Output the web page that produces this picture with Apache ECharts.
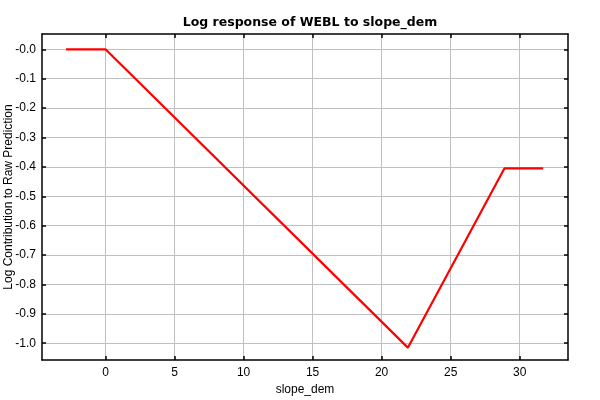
<!DOCTYPE html>
<html><head><meta charset="utf-8">
<script src="https://cdn.jsdelivr.net/npm/echarts@6/dist/echarts.min.js"></script>
<style>html,body{margin:0;padding:0;background:#fff}#c{width:600px;height:400px}</style>
</head><body><div id="c"></div>
<script>
var xValues = [-2.86, 0.0, 21.9, 28.9, 31.7];
var yValues = [0.0, 0.0, -1.015, -0.405, -0.405];
var xTicks = [0, 5, 10, 15, 20, 25, 30];
var yTicks = [-1.0, -0.9, -0.8, -0.7, -0.6, -0.5, -0.4, -0.3, -0.2, -0.1, 0.0];
var titleText = 'Log response of WEBL to slope_dem';
var xName = 'slope_dem';
var yName = 'Log Contribution to Raw Prediction';

var data = xValues.map(function(x, i){ return [x, yValues[i]]; });
var chart = echarts.init(document.getElementById('c'), null, {renderer:'canvas'});
var font = '"Liberation Sans", Arial, sans-serif';
var tfont = '"DejaVu Sans", Verdana, sans-serif';
function axisLine(){ return {show:true, onZero:false, lineStyle:{color:'#000', width:1.5}}; }
function axisTick(vals){ return {show:true, inside:true, length:4, customValues:vals, lineStyle:{color:'#000', width:1.5}}; }
chart.setOption({
  animation:false,
  backgroundColor:'#fff',
  title:{text:titleText, left:305, top:11, textAlign:'center',
    textStyle:{fontFamily:tfont, fontSize:12.5, fontWeight:'bold', color:'#000'}},
  grid:{left:42, right:32, top:34, bottom:40, containLabel:false, outerBoundsMode:'none'},
  xAxis:[
    {type:'value', min:-4.6, max:33.5, position:'bottom',
      axisLine:axisLine(), axisTick:axisTick(xTicks),
      name:xName, nameLocation:'middle', nameGap:24, nameMoveOverlap:false,
      nameTextStyle:{fontFamily:font, fontSize:12, color:'#000'},
      axisLabel:{fontFamily:font, fontSize:12, color:'#000', margin:7, customValues:xTicks},
      splitLine:{show:true, lineStyle:{color:'#c0c0c0', width:1}}},
    {type:'value', min:-4.6, max:33.5, position:'top',
      axisLine:axisLine(), axisTick:axisTick(xTicks), axisLabel:{show:false}, splitLine:{show:false}}
  ],
  yAxis:[
    {type:'value', min:-1.057, max:0.052, position:'left',
      axisLine:axisLine(), axisTick:axisTick(yTicks),
      name:yName, nameLocation:'middle', nameGap:27, nameMoveOverlap:false,
      nameTextStyle:{fontFamily:font, fontSize:12, color:'#000'},
      axisLabel:{fontFamily:font, fontSize:12, color:'#000', margin:6, customValues:yTicks,
        formatter:function(v){ return (v<=0.0001?'-':'') + Math.abs(v).toFixed(1); }},
      splitLine:{show:true, lineStyle:{color:'#c0c0c0', width:1}}},
    {type:'value', min:-1.057, max:0.052, position:'right',
      axisLine:axisLine(), axisTick:axisTick(yTicks), axisLabel:{show:false}, splitLine:{show:false}}
  ],
  series:[{type:'line', data:data, xAxisIndex:0, yAxisIndex:0, showSymbol:false,
    lineStyle:{color:'#ff0000', width:2.2}, itemStyle:{color:'#ff0000'}}]
});
</script></body></html>
